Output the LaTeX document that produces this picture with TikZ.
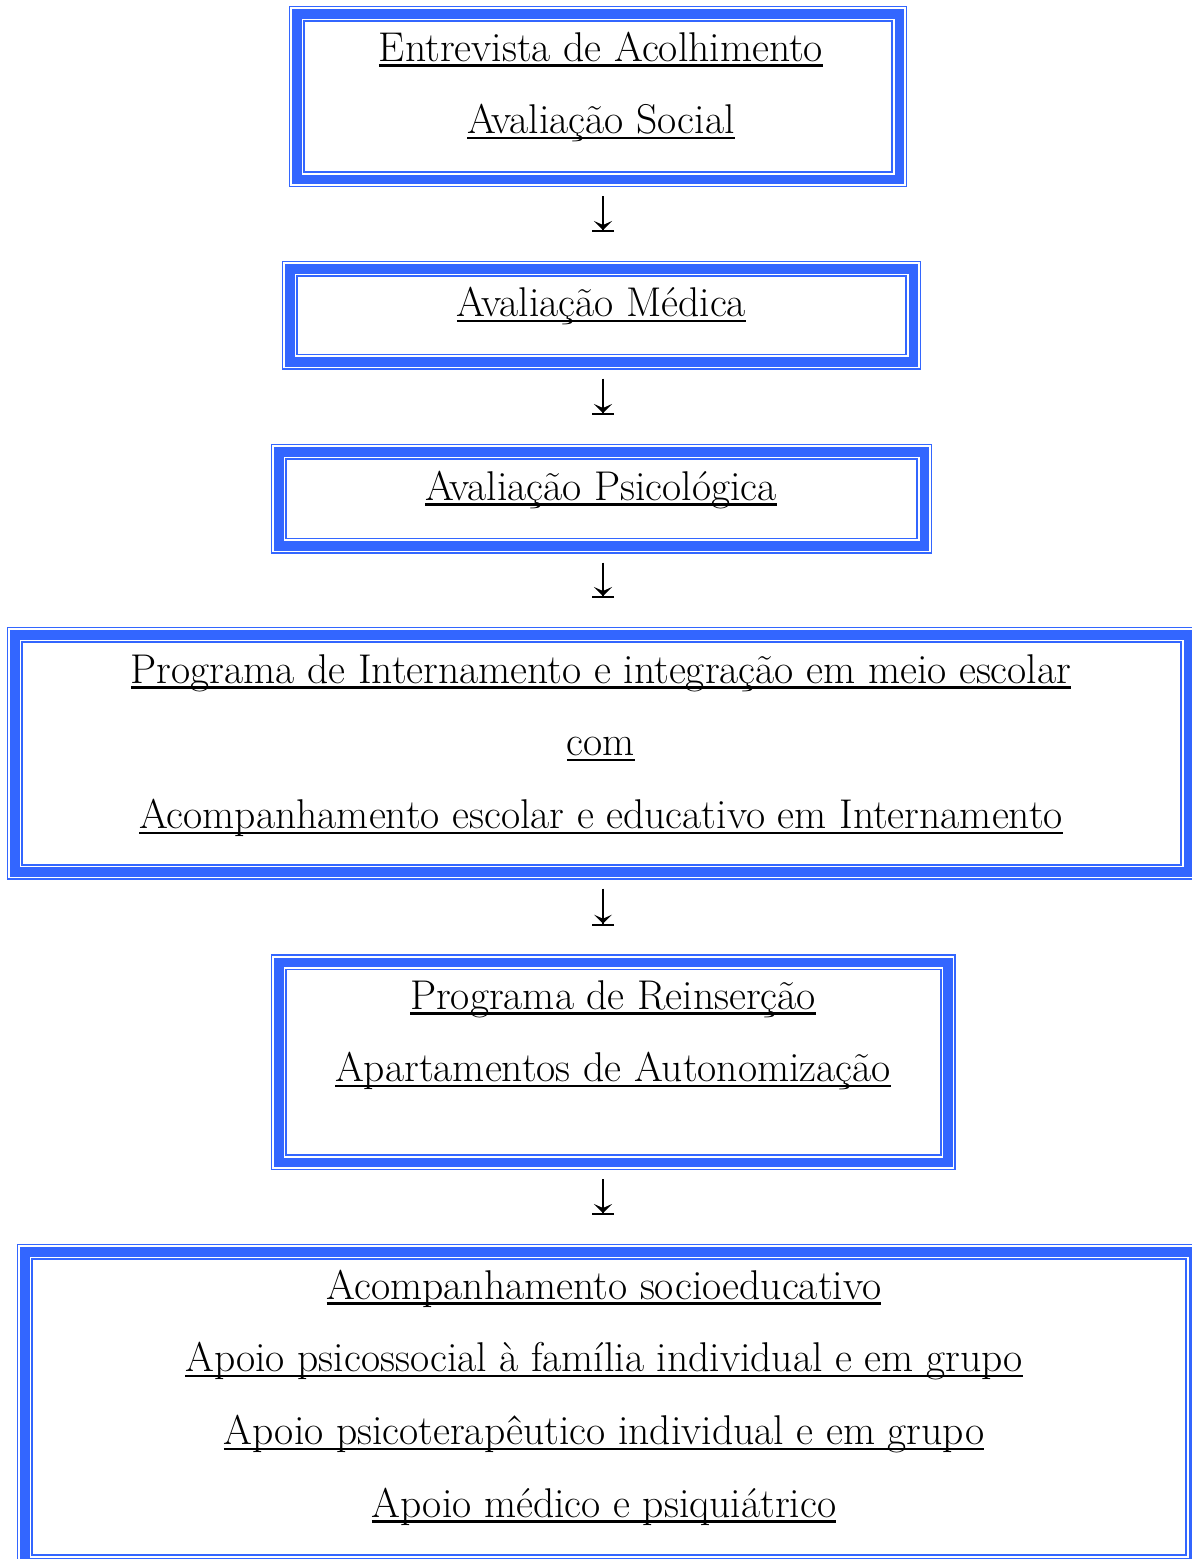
\documentclass[tikz,border=0pt]{standalone}
\usepackage{fontspec}
\usetikzlibrary{arrows.meta}
\definecolor{bblue}{RGB}{51,102,255}
\newcommand\ulin[1]{\setbox0=\hbox{#1}\rlap{\rule[-5.6pt]{\wd0}{2.4pt}}\box0}
\newcommand\boxlines[1]{\begin{tabular}[t]{@{}c@{}}#1\end{tabular}}
\begin{document}
\begin{tikzpicture}[x=1pt,y=-1pt,
  tribox/.style={draw=bblue, line width=9.5pt,
    preaction={draw=bblue, line width=16pt},
    preaction={draw=white, line width=12.6pt},
    inner sep=0pt, outer sep=0pt},
  txt/.style={anchor=base, inner sep=0pt, font=\fontsize{41.6pt}{72.7pt}\selectfont},
  flowarrow/.style={line width=1.7pt, shorten <=16.75pt, shorten >=36.75pt,
    -{Stealth[length=9pt,width=18pt,inset=4pt]Bar[width=22pt,line width=2pt]}}]
\useasboundingbox (0,0) rectangle (1192,1559);
\clip (0,0) rectangle (1192,1559);
\fill[white] (0,0) rectangle (1192,1559);
% boxes
\node[tribox, minimum width=602.5pt, minimum height=165.5pt] (b1) at (598,96.5) {};
\node[tribox, minimum width=623.5pt, minimum height=93pt] (b2) at (601.5,315.25) {};
\node[tribox, minimum width=645.5pt, minimum height=94pt] (b3) at (601.5,498.75) {};
\node[tribox, minimum width=1173.5pt, minimum height=237.2pt] (b4) at (601.5,753.35) {};
\node[tribox, minimum width=669.2pt, minimum height=199.8pt] (b5) at (613.35,1062.35) {};
\node[tribox, minimum width=1168.5pt, minimum height=310.5pt] (b6) at (609,1407) {};
% texts
\node[txt] (t1) at (601,61) {\boxlines{\ulin{Entrevista de Acolhimento}\\\ulin{Avaliação Social}}};
\node[txt] (t2) at (601.5,316.5) {\boxlines{\ulin{Avaliação Médica}}};
\node[txt] (t3) at (601,500) {\boxlines{\ulin{Avaliação Psicológica}}};
\node[txt] (t4) at (601,683) {\boxlines{\ulin{Programa de Internamento e integração em meio escolar}\\\ulin{com}\\\ulin{Acompanhamento escolar e educativo em Internamento}}};
\node[txt] (t5) at (613,1009) {\boxlines{\ulin{Programa de Reinserção}\\\ulin{Apartamentos de Autonomização}}};
\node[txt] (t6) at (604,1299) {\boxlines{\ulin{Acompanhamento socioeducativo}\\\ulin{Apoio psicossocial à família individual e em grupo}\\\ulin{Apoio psicoterapêutico individual e em grupo}\\\ulin{Apoio médico e psiquiátrico}}};
% arrows
\coordinate (ax) at (603,0);
\draw[flowarrow] (b1.south -| ax) -- (b2.north -| ax);
\draw[flowarrow] (b2.south -| ax) -- (b3.north -| ax);
\draw[flowarrow] (b3.south -| ax) -- (b4.north -| ax);
\draw[flowarrow] (b4.south -| ax) -- (b5.north -| ax);
\draw[flowarrow] (b5.south -| ax) -- (b6.north -| ax);
\end{tikzpicture}
\end{document}
